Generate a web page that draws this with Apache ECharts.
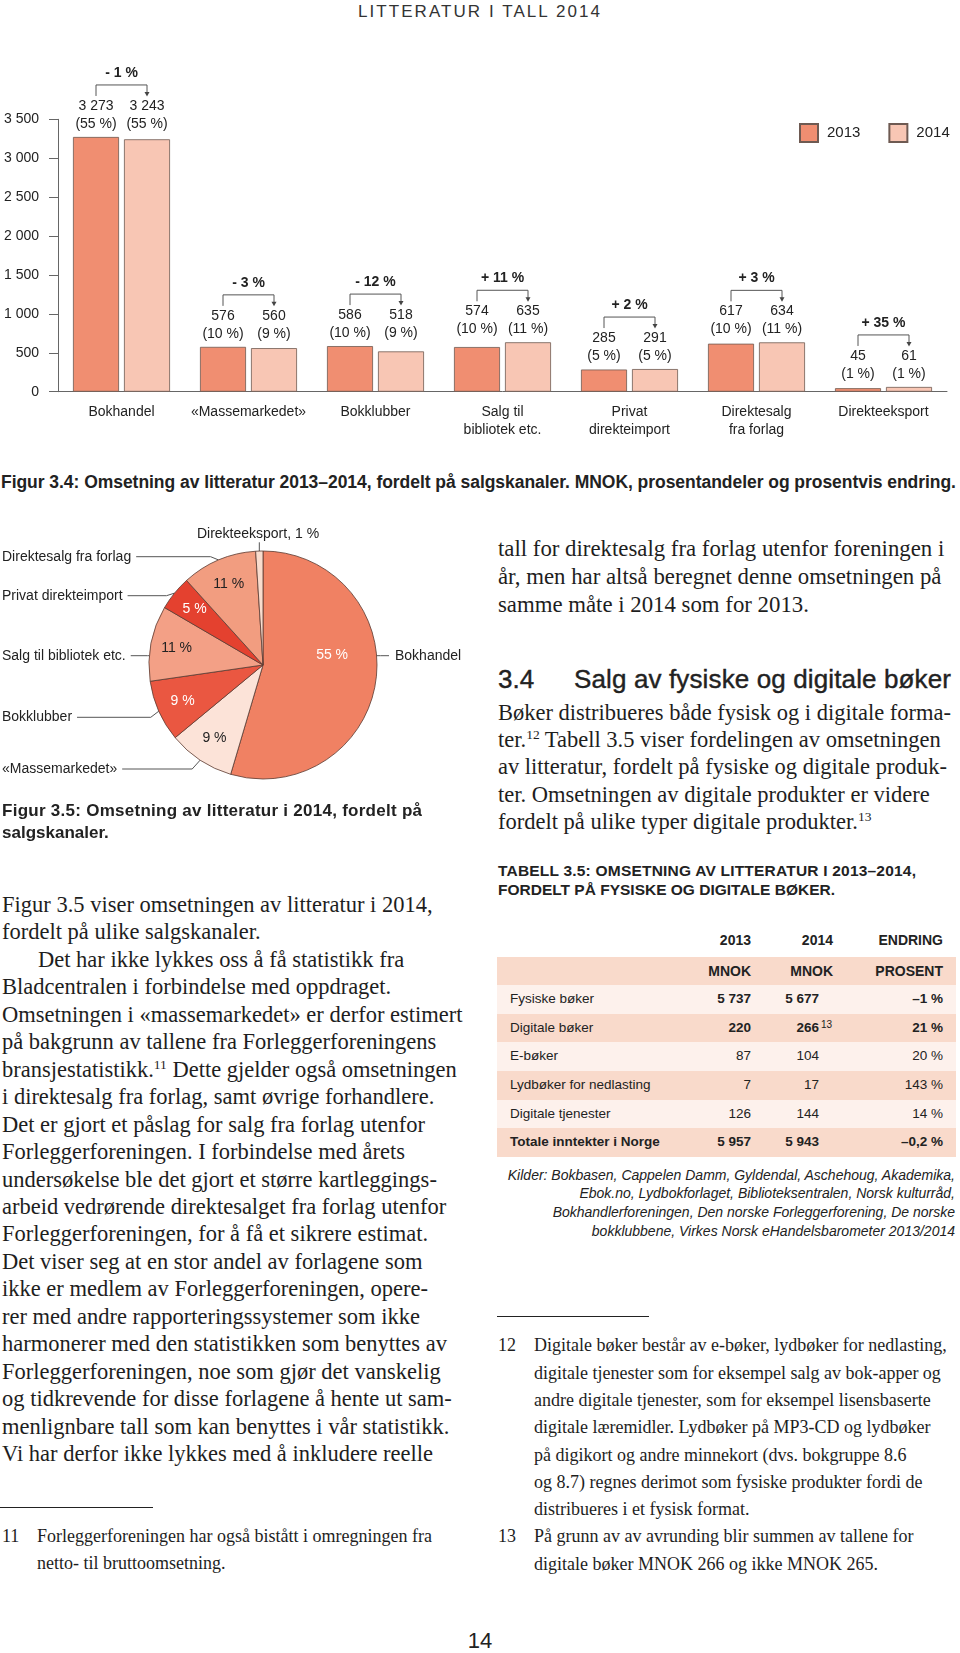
<!DOCTYPE html>
<html>
<head>
<meta charset="utf-8">
<script src="https://cdn.jsdelivr.net/npm/echarts@6/dist/echarts.min.js"></script>
<style>
  html, body { margin: 0; padding: 0; background: #fff; }
  body { width: 960px; height: 1653px; position: relative; overflow: hidden; color: #1e1e1e; }
  .abs { position: absolute; white-space: nowrap; }
  .sans { font-family: "Liberation Sans", Arial, sans-serif; }
  .serif { font-family: "Liberation Serif", "Times New Roman", serif; }
  sup { font-size: 60%; line-height: 0; vertical-align: 0.6em; }
  #bars { position: absolute; left: 0; top: 0; width: 960px; height: 460px; }
  #pie { position: absolute; left: 0; top: 500px; width: 480px; height: 320px; }
  .band { position: absolute; left: 497px; width: 459px; height: 28.6px; }
  .cell { position: absolute; top: 0; height: 28.6px; line-height: 28.6px; font-size: 13.5px; }
  .r { text-align: right; }
  .rule { position: absolute; height: 1px; background: #222; }
</style>
</head>
<body>

<div class="abs sans" data-w="244" style="left:358px;top:2px;font-size:17px;line-height:20px;letter-spacing:2px;color:#333;">LITTERATUR I TALL 2014</div>

<div id="bars"></div>

<div class="abs sans" data-w="955" style="left:1px;top:471px;font-size:17.5px;line-height:22px;font-weight:bold;color:#222;">Figur 3.4: Omsetning av litteratur 2013–2014, fordelt på salgskanaler. MNOK, prosentandeler og prosentvis endring.</div>

<div id="pie"></div>

<div class="abs sans" style="left:2px;top:800px;font-size:17px;line-height:22.3px;font-weight:bold;color:#222;">
  <span data-w="420">Figur 3.5: Omsetning av litteratur i 2014, fordelt på</span><br>salgskanaler.
</div>

<div class="abs serif" style="left:2px;top:891px;font-size:22.5px;line-height:27.45px;">
Figur 3.5 viser omsetningen av litteratur i 2014,<br>
fordelt på ulike salgskanaler.<br>
<span style="padding-left:36px">Det har ikke lykkes oss å få statistikk fra</span><br>
Bladcentralen i forbindelse med oppdraget.<br>
Omsetningen i «massemarkedet» er derfor estimert<br>
på bakgrunn av tallene fra Forleggerforeningens<br>
bransjestatistikk.<sup>11</sup> Dette gjelder også omsetningen<br>
i direktesalg fra forlag, samt øvrige forhandlere.<br>
Det er gjort et påslag for salg fra forlag utenfor<br>
Forleggerforeningen. I forbindelse med årets<br>
undersøkelse ble det gjort et større kartleggings-<br>
arbeid vedrørende direktesalget fra forlag utenfor<br>
Forleggerforeningen, for å få et sikrere estimat.<br>
Det viser seg at en stor andel av forlagene som<br>
ikke er medlem av Forleggerforeningen, opere-<br>
rer med andre rapporteringssystemer som ikke<br>
harmonerer med den statistikken som benyttes av<br>
Forleggerforeningen, noe som gjør det vanskelig<br>
og tidkrevende for disse forlagene å hente ut sam-<br>
menlignbare tall som kan benyttes i vår statistikk.<br>
Vi har derfor ikke lykkes med å inkludere reelle
</div>

<div class="rule" style="left:0;top:1507px;width:153px;"></div>
<div class="abs serif" style="left:2px;top:1523px;font-size:18px;line-height:27.3px;">11</div>
<div class="abs serif" style="left:37px;top:1523px;font-size:18px;line-height:27.3px;">
Forleggerforeningen har også bistått i omregningen fra<br>netto- til bruttoomsetning.
</div>

<div class="abs serif" style="left:498px;top:535px;font-size:22.8px;line-height:27.8px;">
tall for direktesalg fra forlag utenfor foreningen i<br>
år, men har altså beregnet denne omsetningen på<br>
samme måte i 2014 som for 2013.
</div>

<div class="abs sans" style="left:498px;top:664px;font-size:26px;line-height:30px;color:#222;-webkit-text-stroke:0.4px #222;">3.4</div>
<div class="abs sans" data-w="377" style="left:574px;top:664px;font-size:26px;line-height:30px;color:#222;-webkit-text-stroke:0.4px #222;">Salg av fysiske og digitale bøker</div>

<div class="abs serif" style="left:498px;top:698.6px;font-size:22.5px;line-height:27.35px;">
Bøker distribueres både fysisk og i digitale forma-<br>
ter.<sup>12</sup> Tabell 3.5 viser fordelingen av omsetningen<br>
av litteratur, fordelt på fysiske og digitale produk-<br>
ter. Omsetningen av digitale produkter er videre<br>
fordelt på ulike typer digitale produkter.<sup>13</sup>
</div>

<div class="abs sans" style="left:498px;top:861px;font-size:15.5px;line-height:19.3px;font-weight:bold;color:#222;">
<span data-w="418">TABELL 3.5: OMSETNING AV LITTERATUR I 2013–2014,</span><br>FORDELT PÅ FYSISKE OG DIGITALE BØKER.
</div>

<div id="table" class="sans" style="color:#222;"></div>

<div class="abs sans" style="left:480px;top:1165.5px;width:475px;text-align:right;font-size:14px;line-height:18.9px;font-style:italic;color:#222;">
Kilder: Bokbasen, Cappelen Damm, Gyldendal, Aschehoug, Akademika,<br>
Ebok.no, Lydbokforlaget, Biblioteksentralen, Norsk kulturråd,<br>
Bokhandlerforeningen, Den norske Forleggerforening, De norske<br>
bokklubbene, Virkes Norsk eHandelsbarometer 2013/2014
</div>

<div class="rule" style="left:497px;top:1316px;width:152px;"></div>
<div class="abs serif" style="left:498px;top:1332.4px;font-size:18px;line-height:27.28px;">12<br><br><br><br><br><br><br>13</div>
<div class="abs serif" style="left:534px;top:1332.4px;font-size:18px;line-height:27.28px;">
Digitale bøker består av e-bøker, lydbøker for nedlasting,<br>
digitale tjenester som for eksempel salg av bok-apper og<br>
andre digitale tjenester, som for eksempel lisensbaserte<br>
digitale læremidler. Lydbøker på MP3-CD og lydbøker<br>
på digikort og andre minnekort (dvs. bokgruppe 8.6<br>
og 8.7) regnes derimot som fysiske produkter fordi de<br>
distribueres i et fysisk format.<br>
På grunn av av avrunding blir summen av tallene for<br>
digitale bøker MNOK 266 og ikke MNOK 265.
</div>

<div class="abs sans" style="left:455px;top:1628px;width:50px;text-align:center;font-size:22px;line-height:26px;color:#222;">14</div>

<script>
// ---- data: figur 3.4 (MNOK) ----
var categories = ['Bokhandel', '«Massemarkedet»', 'Bokklubber', 'Salg til\nbibliotek etc.', 'Privat\ndirekteimport', 'Direktesalg\nfra forlag', 'Direkteeksport'];
var values2013 = [3273, 576, 586, 574, 285, 617, 45];
var values2014 = [3243, 560, 518, 635, 291, 634, 61];
var share2013 = ['55 %', '10 %', '10 %', '10 %', '5 %', '10 %', '1 %'];
var share2014 = ['55 %', '9 %', '9 %', '11 %', '5 %', '11 %', '1 %'];
var changes = ['- 1 %', '- 3 %', '- 12 %', '+ 11 %', '+ 2 %', '+ 3 %', '+ 35 %'];

// ---- data: figur 3.5 (2014) ----
var pieNames = ['Bokhandel', '«Massemarkedet»', 'Bokklubber', 'Salg til bibliotek etc.', 'Privat direkteimport', 'Direktesalg fra forlag', 'Direkteeksport, 1 %'];
var pieValues = [3243, 560, 518, 635, 291, 634, 61];
var pieLabels = ['55 %', '9 %', '9 %', '11 %', '5 %', '11 %', ''];

// ---- data: tabell 3.5 ----
var tableHead = ['', '2013', '2014', 'ENDRING'];
var tableUnits = ['', 'MNOK', 'MNOK', 'PROSENT'];
var tableRows = ['Fysiske bøker', 'Digitale bøker', 'E-bøker', 'Lydbøker for nedlasting', 'Digitale tjenester', 'Totale inntekter i Norge'];
var table2013 = ['5 737', '220', '87', '7', '126', '5 957'];
var table2014 = ['5 677', '266', '104', '17', '144', '5 943'];
var tableChange = ['–1 %', '21 %', '20 %', '143 %', '14 %', '–0,2 %'];

var FONT = '"Liberation Sans", Arial, sans-serif';
function fmt(v) {
  return v >= 1000 ? Math.floor(v / 1000) + ' ' + String(v % 1000).padStart(3, '0') : String(v);
}

// ---------- bar chart ----------
var barW = 46, barGapPx = 5;
var barOff = (barW + barGapPx) / 2;
var edge = '#6e5a52';

function renderNotes(params, api) {
  var i = api.value(0);
  var p = api.coord([i, Math.max(api.value(1), api.value(2))]);
  var x0 = p[0] - barOff, x1 = p[0] + barOff, y = p[1];
  function txt(x, yy, s, bold) {
    return { type: 'text', style: { x: x, y: yy, text: s, align: 'center', verticalAlign: 'middle',
      fill: '#222', font: (bold ? 'bold ' : '') + '14px ' + FONT } };
  }
  return { type: 'group', children: [
    txt(x0, y - 31, fmt(values2013[i])),
    txt(x0, y - 13, '(' + share2013[i] + ')'),
    txt(x1, y - 31, fmt(values2014[i])),
    txt(x1, y - 13, '(' + share2014[i] + ')'),
    { type: 'polyline', shape: { points: [[x0, y - 41], [x0, y - 52], [x1, y - 52], [x1, y - 44]] },
      style: { stroke: '#555', lineWidth: 1, fill: null } },
    { type: 'polygon', shape: { points: [[x1 - 2.5, y - 45], [x1 + 2.5, y - 45], [x1, y - 40.5]] },
      style: { fill: '#444' } },
    txt(p[0], y - 64, changes[i], true)
  ] };
}

var bars = echarts.init(document.getElementById('bars'));
bars.setOption({
  animation: false,
  grid: { left: 58, right: 13, top: 119.3, bottom: 68.3 },
  legend: {
    left: 794, top: 118, itemWidth: 18, itemHeight: 18, itemGap: 28, icon: 'rect',
    textStyle: { fontFamily: FONT, fontSize: 15, color: '#222', padding: [0, 0, 0, 4] },
    data: ['2013', '2014']
  },
  xAxis: {
    type: 'category', data: categories,
    axisLine: { lineStyle: { color: '#666', width: 1 } },
    axisTick: { show: false },
    axisLabel: { fontFamily: FONT, fontSize: 14, color: '#222', lineHeight: 18, margin: 11, interval: 0 }
  },
  yAxis: {
    type: 'value', min: 0, max: 3500, interval: 500,
    axisLine: { show: true, lineStyle: { color: '#666', width: 1 } },
    axisTick: { show: true, length: 9, lineStyle: { color: '#666' } },
    axisLabel: { fontFamily: FONT, fontSize: 14, color: '#222', margin: 19, formatter: fmt },
    splitLine: { show: false }
  },
  series: [
    { name: '2013', type: 'bar', data: values2013, barWidth: barW, barGap: (barGapPx / barW * 100) + '%',
      itemStyle: { color: '#F08E71', borderColor: edge, borderWidth: 0.8 }, silent: true },
    { name: '2014', type: 'bar', data: values2014, barWidth: barW,
      itemStyle: { color: '#F8C6B4', borderColor: edge, borderWidth: 0.8 }, silent: true },
    { type: 'custom', renderItem: renderNotes, silent: true, z: 10,
      encode: { x: 0, y: [1, 2] },
      data: categories.map(function (c, i) { return [i, values2013[i], values2014[i]]; }) }
  ]
});

// ---------- pie chart ----------
var pieColors = ['#F08163', '#FCE3D8', '#EA5741', '#F3A086', '#E4412F', '#F29D80', '#F9DCCE'];
var pieTextColors = ['#fff', '#222', '#fff', '#222', '#fff', '#222', '#222'];
var PCX = 263, PCY = 165, PR = 114;
// where each outside label sits: [x, y, side]
var pieSpots = [[395, 155.7, 'right'], [2, 269, 'left'], [2, 217.3, 'left'], [2, 155.7, 'left'],
                [2, 95.7, 'left'], [2, 56.7, 'left'], [258, 34.3, 'top']];

function pieLayout(p) {
  var s = pieSpots[p.dataIndex];
  var e = p.labelLinePoints ? p.labelLinePoints[0] : [PCX, PCY - PR];
  var w = p.labelRect.width;
  if (s[2] === 'top') {
    return { x: s[0], y: s[1], align: 'center', verticalAlign: 'middle',
      labelLinePoints: [[e[0], e[1] + 5], [e[0], e[1] - 2], [e[0], s[1] + 8]] };
  }
  var dy = s[1] - PCY;
  var flat = Math.abs(dy) < 25;
  if (s[2] === 'right') {
    var ex = PCX + Math.sqrt(PR * PR - dy * dy);
    return { x: s[0], y: s[1], align: 'left', verticalAlign: 'middle',
      labelLinePoints: [[ex, s[1]], [ex + 4, s[1]], [s[0] - 6, s[1]]] };
  }
  var start = flat ? [PCX - Math.sqrt(PR * PR - dy * dy), s[1]] : e;
  return { x: s[0], y: s[1], align: 'left', verticalAlign: 'middle',
    labelLinePoints: [start, [start[0] - (flat ? 2 : 8), s[1]], [s[0] + w + 5, s[1]]] };
}

var pie = echarts.init(document.getElementById('pie'));
pie.setOption({
  animation: false,
  series: [
    { type: 'pie', center: [PCX, PCY], radius: PR, startAngle: 90, clockwise: true,
      avoidLabelOverlap: false, silent: true,
      itemStyle: { borderColor: '#5b3b32', borderWidth: 0.8 },
      label: { show: true, position: 'outside', formatter: '{b}', fontFamily: FONT, fontSize: 14, color: '#222' },
      labelLine: { show: true, length: 10, length2: 10, lineStyle: { color: '#555', width: 1 } },
      labelLayout: pieLayout,
      data: pieNames.map(function (n, i) { return { name: n, value: pieValues[i], itemStyle: { color: pieColors[i] } }; }) },
    { type: 'pie', center: [PCX, PCY], radius: [56, PR], startAngle: 90, clockwise: true,
      avoidLabelOverlap: false, silent: true,
      itemStyle: { color: 'rgba(0,0,0,0)', borderWidth: 0 },
      label: { show: true, position: 'inside', fontFamily: FONT, fontSize: 14 },
      labelLine: { show: false },
      data: pieNames.map(function (n, i) {
        var lab = { color: pieTextColors[i], formatter: pieLabels[i] };
        if (i === 0) lab.offset = [-18, -22];
        return { name: n, value: pieValues[i], label: lab };
      }) }
  ]
});

// ---------- table ----------
(function () {
  var host = document.getElementById('table');
  var bandColors = ['#F9DACB', '#FDF1EC'];
  var html = '';
  function cells(row, bold, boldLabel) {
    var fw = bold ? 'bold' : 'normal';
    return '<div class="cell" style="left:13px;font-weight:' + (boldLabel ? 'bold' : 'normal') + '">' + row[0] + '</div>' +
      '<div class="cell r" style="left:163px;width:91px;font-weight:' + fw + '">' + row[1] + '</div>' +
      '<div class="cell r" style="left:243px;width:79px;font-weight:' + fw + '">' + row[2] + '</div>' +
      '<div class="cell r" style="left:353px;width:93px;font-weight:' + fw + '">' + row[3] + '</div>';
  }
  html += '<div class="band" style="top:926px;font-size:14px;">' +
    '<div class="cell r" style="left:163px;width:91px;font-weight:bold;font-size:14px;">' + tableHead[1] + '</div>' +
    '<div class="cell r" style="left:243px;width:93px;font-weight:bold;font-size:14px;">' + tableHead[2] + '</div>' +
    '<div class="cell r" style="left:353px;width:93px;font-weight:bold;font-size:14px;">' + tableHead[3] + '</div></div>';
  html += '<div class="band" style="top:956.7px;background:' + bandColors[0] + '">' +
    '<div class="cell r" style="left:163px;width:91px;font-weight:bold;font-size:14px;">' + tableUnits[1] + '</div>' +
    '<div class="cell r" style="left:243px;width:93px;font-weight:bold;font-size:14px;">' + tableUnits[2] + '</div>' +
    '<div class="cell r" style="left:353px;width:93px;font-weight:bold;font-size:14px;">' + tableUnits[3] + '</div></div>';
  tableRows.forEach(function (name, i) {
    var top = 956.7 + 28.57 * (i + 1);
    var v14 = table2014[i] + (i === 1 ? '<sup style="position:absolute;right:-13px;top:6px;vertical-align:0;line-height:1;font-weight:normal;font-size:10px;">13</sup>' : '');
    var bold = i < 2 || i === 5;
    html += '<div class="band" style="top:' + top + 'px;background:' + bandColors[(i + 1) % 2] + '">' +
      cells([name, table2013[i], v14, tableChange[i]], bold, i === 5) + '</div>';
  });
  host.innerHTML = html;
})();

// fit single lines to the measured widths
Array.prototype.forEach.call(document.querySelectorAll('[data-w]'), function (el) {
  var target = parseFloat(el.getAttribute('data-w'));
  var cur = parseFloat(getComputedStyle(el).letterSpacing) || 0;
  var w = el.getBoundingClientRect().width;
  var n = el.textContent.length - 1;
  if (n > 0) el.style.letterSpacing = (cur + (target - w) / n) + 'px';
});
</script>
</body>
</html>
